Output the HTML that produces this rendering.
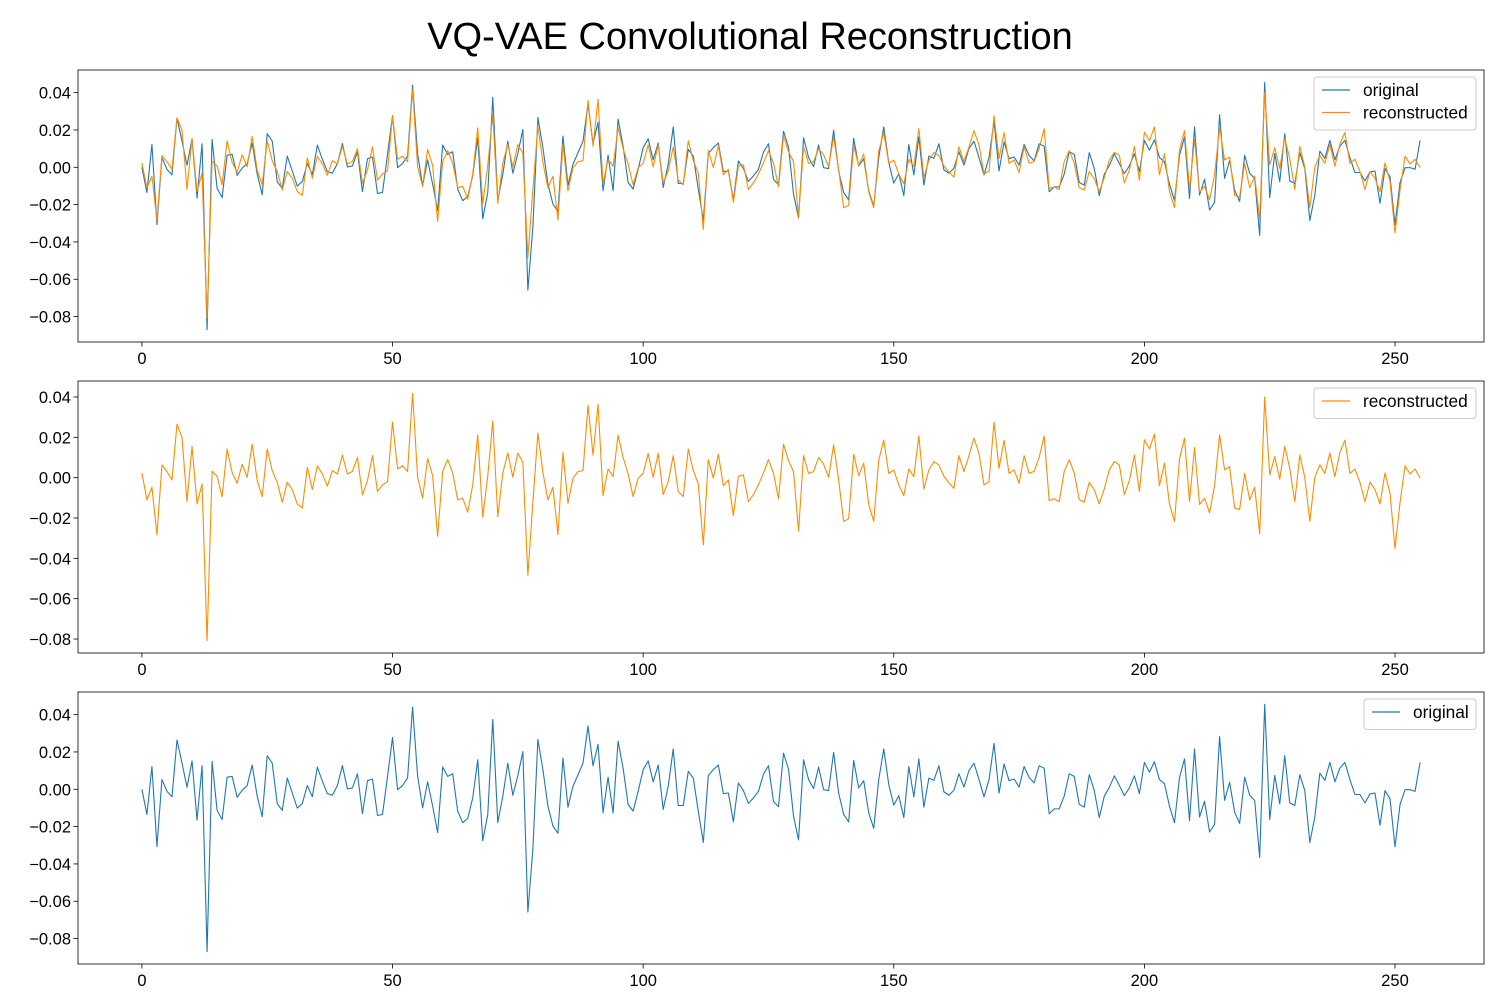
<!DOCTYPE html>
<html><head><meta charset="utf-8">
<style>
html,body{margin:0;padding:0;background:#fff;}
svg{display:block;font-family:"Liberation Sans","DejaVu Sans",sans-serif;}
</style></head>
<body>
<svg id="fig" width="1500" height="1000" viewBox="0 0 1500 1000" xmlns="http://www.w3.org/2000/svg">
<rect width="1500" height="1000" fill="#fff"/>
<text x="750" y="49" text-anchor="middle" font-size="38" fill="#000">VQ-VAE Convolutional Reconstruction</text>
</svg>
<script>
const original = [0,-13.5,12.2,-30.7,5.2,-1.1,-4.1,26.4,14,1.1,15.2,-16.5,12.6,-87,14.9,-11.3,-16.2,6.5,6.9,-4.3,-0.5,2,13,-3.7,-14.7,18,14,-7.8,-11.3,6,-2,-10.1,-7.6,2,-4,11.9,4.3,-2.3,-3.2,2,12.7,0.2,0.7,8.3,-13.1,4.6,5.5,-14,-13.5,6.9,27.7,-0.2,2,6,43.9,7.2,-10,4,-9,-23.2,11.9,6.9,8.3,-11.7,-17.9,-15.6,-4.6,15.8,-27.6,-13.5,37.4,-17.9,-3.7,14,-3.2,7.4,20.2,-65.8,-32,26.7,10.5,-9,-19.7,-23.6,16.7,-9.6,1.6,7.8,14,33.9,12.6,24.1,-12.6,6.5,-12.6,25.8,11.3,-8.1,-11.7,-1.1,10.5,15.2,4,13,-10.8,1.6,21.6,-8.7,-8.7,9.6,6,-11.7,-28.5,7.4,10.5,13,-2.3,-2,-17.4,3.4,-0.7,-7.6,-4.6,-1.1,8.1,12.6,-6.4,-9.4,19.3,10.8,-14.4,-27.1,15.8,5.2,0.4,11.9,-0.2,-0.7,19.8,-2,-13.5,-17.5,15.5,0.7,4.6,-12.6,-20.9,5.2,21.6,2.5,-8.5,-3.4,-15.2,12.2,-4.1,16.3,-9.6,6,4.8,12.6,-1.4,-3.2,-0.5,8.3,1.2,10,14,5.2,-4.1,5.2,24.6,-2,13.5,4.6,5.5,1.2,12.2,6.3,3.4,12.6,11.3,-13.1,-10.5,-10.5,-3.7,8.3,6.9,-8.1,-9.6,7.8,-0.7,-15.2,-3.7,1,7.2,2,-3.4,0.7,7.2,-2.3,14.4,9.2,14.7,5.2,3,-9,-17.9,6.3,16.3,-16.7,21.6,-14.9,-6.4,-22.9,-18.8,28.2,-5.9,3.7,-12.3,-18.3,6.5,-3.2,-6,-36.5,45.5,-16.2,7.4,-7.8,18,-7.3,-8.7,7.8,-0.7,-28.5,-14.9,8.6,4.8,14.4,4,11.3,14.4,5.2,-2.8,-2.8,-7.3,-2.5,-2,-19.3,-0.7,-5.1,-30.8,-8.1,-0.2,-0.2,-1.1,14.4];
const reconstructed = [2.3,-11,-4.8,-28.3,6.3,3,-1.1,26.5,19.9,-11.9,15.5,-13,-3.1,-80.8,3.1,0.7,-9.4,14.2,2.6,-2.8,6.7,0.2,16.6,-1.5,-9.4,14.2,3.5,-2.3,-12.2,-2.3,-5.9,-13,-15.1,5.1,-5.9,5.9,1.8,-4.3,3.5,1.8,11.2,1.8,3.1,10,-8.6,-1.5,10.9,-6.9,-3.6,-2,27.6,4.3,5.9,3,41.8,0.2,-10.2,9.5,1,-29,3,8.9,2.3,-11,-10.2,-17.1,-3.6,21.1,-19.6,1,28.1,-19.3,2.3,12.2,0.2,12.2,7.6,-48.4,-12.2,22.1,2.6,-11,-4.8,-28.2,12.5,-12.7,-0.3,3,3.5,35.9,11.2,36.4,-8.9,4.3,0.5,21.1,10,1.8,-9.4,-0.3,2.1,12,0.2,12,-8.4,-2,10.9,-6.9,-9.4,14.2,3.5,-3.1,-33.3,8.9,-0.2,11.6,-4,-1.1,-18.8,0.7,1.3,-11.9,-8.4,-3.6,2.3,8.9,2.3,-10.5,16.6,8.4,3,-26.5,10.9,2.1,3,10,6.7,0.2,16.3,-1.1,-21.7,-20.4,11.6,1,7.2,-13.3,-21.7,8.7,18.6,2.1,3.8,-3.6,-8.9,4.3,0.5,20.7,-5.6,3.8,7.9,6.3,0.7,-2.6,-5.3,10.9,3,10.9,19.6,12,-3.6,-2,27.6,4.6,18.6,2.1,3.9,-2.8,10.9,2.1,3.1,10,20.7,-11.4,-10.5,-11.9,3,8.9,2.3,-10.9,-12.2,-2.3,-6.1,-13,-5.6,3.9,8,6.3,-8.4,-1.5,11.2,-6.9,18.8,14.2,21.6,-4,7.2,-13,-21.7,9.2,19.6,-11.7,14.9,-13.3,-10.2,-17.4,-4,21.2,3.9,5.4,-15,-15.8,2.1,-11,-4.8,-27.8,40,1.3,10.4,-0.7,15.5,4.6,-11.9,11.2,0.2,-21.6,0.2,6.4,2.1,12.2,0.5,12.5,18.6,2.1,4.3,-2.3,-11.9,-2.3,-5.9,-13,2.3,-7.6,-35.2,-12.2,5.9,1.8,4.3,-0.2];
const xTicks = [0,50,100,150,200,250];
const yTicks = [0.04,0.02,0.00,-0.02,-0.04,-0.06,-0.08];
const seriesNames = ["original","reconstructed"];

const NS = "http://www.w3.org/2000/svg";
const svg = document.getElementById("fig");
const COLORS = {original:"#1f77b4", reconstructed:"#ff8c00"};
function mk(tag, attrs, parent){const e=document.createElementNS(NS,tag);for(const k in attrs)e.setAttribute(k,attrs[k]);(parent||svg).appendChild(e);return e;}

const panels = [
  {top:70, series:["original","reconstructed"], name:"top"},
  {top:381, series:["reconstructed"], name:"middle"},
  {top:692, series:["original"], name:"bottom"}
];
const L=78, R=1484, H=272;
const n = original.length;
const xmin = -(n-1)*0.05, xmax = (n-1)*1.05;
function xs(i){return L + (i - xmin)/(xmax - xmin)*(R-L);}

panels.forEach(p=>{
  const g = mk("g",{});
  
  
  const data = {original: original.map(v=>v/1000), reconstructed: reconstructed.map(v=>v/1000)};
  let lo=Infinity, hi=-Infinity;
  p.series.forEach(s=>data[s].forEach(v=>{if(v<lo)lo=v;if(v>hi)hi=v;}));
  const pad=(hi-lo)*0.05; const ymin=lo-pad, ymax=hi+pad;
  const T=p.top, B=p.top+H;
  const ys = v => B - (v-ymin)/(ymax-ymin)*H;
  p.series.forEach(s=>{
    const pts = data[s].map((v,i)=>xs(i).toFixed(2)+","+ys(v).toFixed(2)).join(" ");
    const pl = mk("polyline",{points:pts,fill:"none",stroke:COLORS[s],"stroke-width":1.1,"stroke-linejoin":"round"},g);
    
    
  });
  const fr = mk("rect",{x:L,y:T,width:R-L,height:H,fill:"none",stroke:"#000","stroke-width":0.8},g);
  
  
  xTicks.forEach(t=>{
    const x=xs(t);
    mk("line",{x1:x,x2:x,y1:B,y2:B+4.5,stroke:"#000","stroke-width":0.8},g);
    const tx = mk("text",{x:x,y:B+22,"text-anchor":"middle","font-size":16.5,fill:"#000"},g);
    tx.textContent = String(t);
    
    
  });
  yTicks.forEach(t=>{
    if(t<ymin||t>ymax) return;
    const y=ys(t);
    mk("line",{x1:L-4.5,x2:L,y1:y,y2:y,stroke:"#000","stroke-width":0.8},g);
    const tx = mk("text",{x:L-7,y:y+6,"text-anchor":"end","font-size":16.5,fill:"#000"},g);
    tx.textContent = (t<0?"\u22120":"0")+"."+Math.round(Math.abs(t)*100).toString().padStart(2,"0");
    
    
  });
  const lw = p.series.length===2 || p.series[0]==="reconstructed" ? 162 : 112;
  const lh = 8 + p.series.length*22.5;
  const lx = R-8-lw, ly = T+7;
  const lg = mk("g",{},g);
  
  
  mk("rect",{x:lx,y:ly,width:lw,height:lh,rx:3,fill:"#fff","fill-opacity":0.8,stroke:"#ccc","stroke-width":1},lg);
  p.series.forEach((s,k)=>{
    const cy = ly+13+k*22.5;
    const ent = mk("g",{},lg);
    
    
    mk("line",{x1:lx+8,x2:lx+36,y1:cy,y2:cy,stroke:COLORS[s],"stroke-width":1.2},ent);
    const tx = mk("text",{x:lx+49,y:cy+6,"font-size":17.3,fill:"#000"},ent);
    tx.textContent = s;
  });
});
</script>
</body></html>
